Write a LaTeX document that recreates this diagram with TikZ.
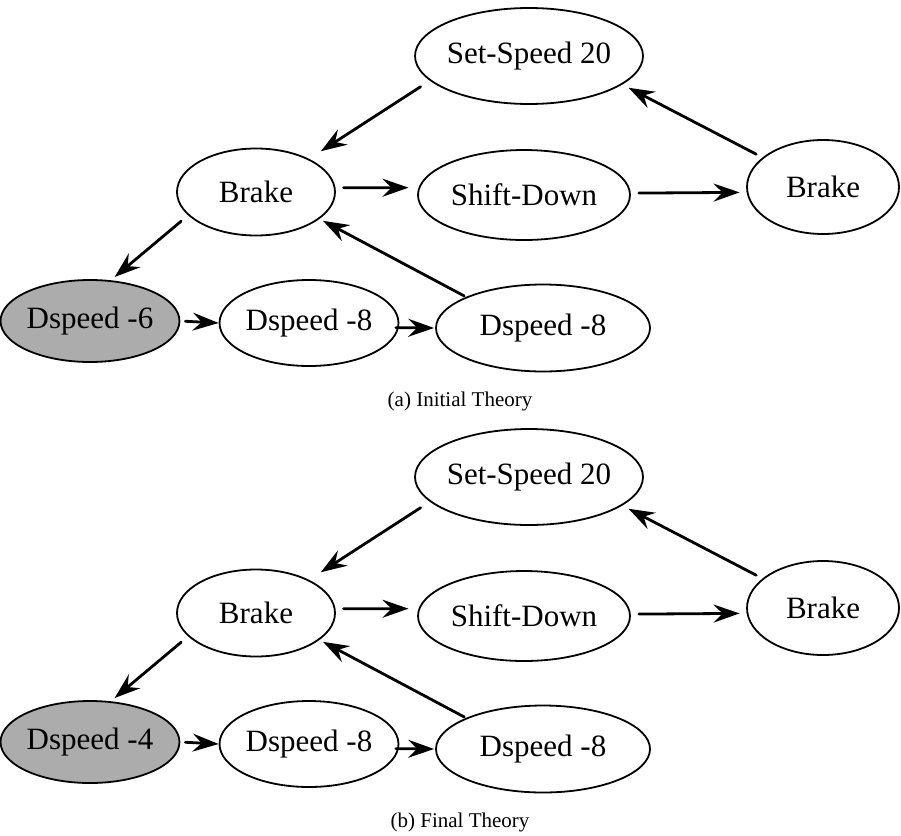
\documentclass[tikz,border=0pt]{standalone}
\usepackage{fontspec}
\setmainfont{Liberation Serif}
\usetikzlibrary{arrows.meta, shapes.geometric}
\definecolor{startgray}{RGB}{172,172,172}

\begin{document}
\begin{tikzpicture}[x=1pt, y=-1pt, line cap=round, line join=round,
    >={Stealth[length=26pt, width=18pt, inset=9pt]},
    state/.style={ellipse, draw, line width=1.8pt, inner sep=0pt, font=\fontsize{31}{36}\selectfont},
    edge/.style={->, line width=2.8pt},
    caption/.style={font=\fontsize{21}{25}\selectfont}]
    % page frame
    \useasboundingbox (0,0) rectangle (901,835);
    \foreach \dy/\ds/\cap [count=\i] in {0/-6/{(a) Initial Theory}, 421/-4/{(b) Final Theory}}{
      \begin{scope}[yshift=-\dy pt]
        % states
        \node[state, minimum width=228pt, minimum height=96pt, inner xsep=-6pt] (set\i) at (529,56) {Set-Speed 20};
        \node[state, minimum width=158pt, minimum height=87pt] (brakeL\i) at (256,192) {Brake};
        \node[state, minimum width=212pt, minimum height=90pt] (shift\i) at (524,195) {Shift-Down};
        \node[state, minimum width=152pt, minimum height=94pt] (brakeR\i) at (823,187) {Brake};
        \node[state, fill=startgray, minimum width=166pt, minimum height=82pt] (start\i) at (90,321) {Dspeed \ds};
        \node[state, minimum width=178pt, minimum height=86pt] (dsA\i) at (309,323) {Dspeed -8};
        \node[state, minimum width=214pt, minimum height=87pt] (dsB\i) at (543,328) {Dspeed -8};
        \node[caption] (cap\i) at (460,401) {\cap};
        % transitions
        \draw[edge, shorten <=11pt, shorten >=14pt] (set\i.194) -- (brakeL\i.32);
        \draw[edge, shorten <=7pt, shorten >=7pt] (brakeR\i.154) -- (set\i.343);
        \draw[edge, shorten <=8pt, shorten >=10pt] (brakeL\i.3) -- (shift\i.176);
        \draw[edge, shorten <=8pt, shorten >=7pt] (shift\i.1) -- (brakeR\i.184);
        \draw[edge, shorten <=9pt, shorten >=5pt] (brakeL\i.199) -- (start\i.63);
        \draw[edge, shorten <=5pt] (start\i.0) -- (dsA\i.180);
        \draw[edge, shorten <=-3pt, shorten >=1pt] (dsA\i.-3) -- (dsB\i.180);
        \draw[edge, shorten <=2pt, shorten >=4pt] (dsB\i.158) -- (brakeL\i.337);
      \end{scope}
    }
\end{tikzpicture}
\end{document}
